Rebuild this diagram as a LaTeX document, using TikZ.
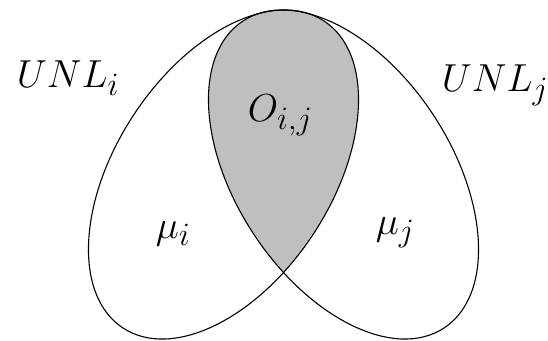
\documentclass[tikz,border=0pt]{standalone}
\definecolor{overlapgray}{RGB}{191,191,191}
\tikzset{
	setlabel/.style={font=\Huge, scale=1.57, inner sep=0pt, anchor=base west},
	leftset/.style={rotate around={56.8:(223.5,165.5)}},
	rightset/.style={rotate around={-56.8:(343.5,165.5)}}
}
\begin{document}
\begin{tikzpicture}[x=1pt, y=1pt, line width=1.1pt]
	% Fix the page to the reference size
	\useasboundingbox (0,0) rectangle (548,340);

	% Shade the overlap of the two sets
	\begin{scope}
		\clip[leftset] (223.5,165.5) ellipse (183.5pt and 107.8pt);
		\fill[overlapgray, rightset] (343.5,165.5) ellipse (183.5pt and 107.8pt);
	\end{scope}

	% Draw the two sets
	\draw[leftset] (223.5,165.5) ellipse (183.5pt and 107.8pt);
	\draw[rightset] (343.5,165.5) ellipse (183.5pt and 107.8pt);

	% Define labels with their coordinates
	\node[setlabel] (unli) at (16, 252) {$UNL_i$};
	\node[setlabel] (unlj) at (441, 248) {$UNL_j$};
	\node[setlabel] (oij) at (247, 218) {$O_{i,j}$};
	\node[setlabel] (mui) at (155, 102) {$\mu_i$};
	\node[setlabel] (muj) at (375, 106) {$\mu_j$};
\end{tikzpicture}
\end{document}
